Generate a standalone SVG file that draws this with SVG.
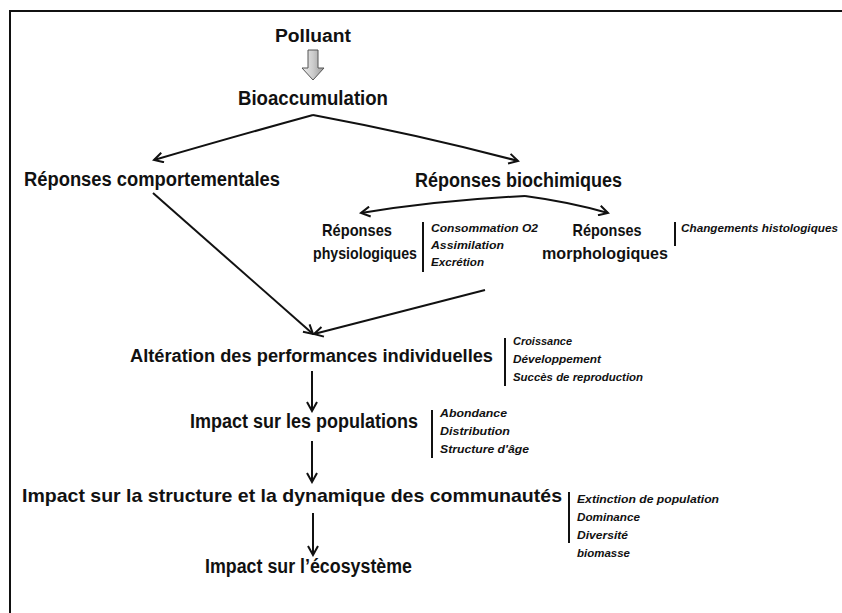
<svg xmlns="http://www.w3.org/2000/svg" width="842" height="613" viewBox="0 0 842 613">
<style>
.t{font-family:"Liberation Sans",Arial,sans-serif;font-weight:bold;fill:#111;}
.big{font-size:20px;}
.mid{font-size:17px;}
.it{font-family:"Liberation Sans",Arial,sans-serif;font-weight:bold;font-style:italic;font-size:11px;fill:#111;}
.c{stroke:#111;stroke-width:2;fill:none;marker-end:url(#ah);}
.bar{stroke:#111;stroke-width:2;}
</style>
<defs>
<marker id="ah" markerWidth="12" markerHeight="12" refX="10" refY="6" orient="auto" markerUnits="userSpaceOnUse">
<path d="M1,1 L10,6 L1,11" fill="none" stroke="#111" stroke-width="2"/>
</marker>
<linearGradient id="gg" x1="0" x2="1" y1="0" y2="0">
<stop offset="0" stop-color="#eee"/><stop offset="0.5" stop-color="#ccc"/><stop offset="1" stop-color="#999"/>
</linearGradient>
</defs>
<rect width="842" height="613" fill="#fff"/>
<g id="frame"><path d="M10,613 L10,11 L842,11" fill="none" stroke="#111" stroke-width="2"/></g>

<g id="connectors">
<path d="M308,50 L318,50 L318,68 L324,68 L313,80 L302,68 L308,68 Z" fill="url(#gg)" stroke="#555" stroke-width="1"/>
<path class="c" d="M313,115 Q240,135 154,160"/>
<path class="c" d="M313,115 Q420,135 518,161"/>
<path class="c" d="M525,196 Q440,200 361,213"/>
<path class="c" d="M525,196 Q570,202 608,213"/>
<path class="c" d="M153,193 L313,334"/>
<path class="c" d="M485,290 L314,334"/>
<path class="c" d="M312,371 L312,411"/>
<path class="c" d="M312,441 L312,482"/>
<path class="c" d="M313,513 L313,555"/>
</g>

<g id="n-polluant"><text class="t" x="313" y="42" font-size="18" text-anchor="middle" textLength="76" lengthAdjust="spacingAndGlyphs">Polluant</text></g>
<g id="n-bioacc"><text class="t big" x="313" y="105" text-anchor="middle" textLength="150" lengthAdjust="spacingAndGlyphs">Bioaccumulation</text></g>
<g id="n-comport"><text class="t big" x="24" y="186" textLength="256" lengthAdjust="spacingAndGlyphs">Réponses comportementales</text></g>
<g id="n-biochim"><text class="t big" x="415" y="187" textLength="207" lengthAdjust="spacingAndGlyphs">Réponses biochimiques</text></g>

<g id="n-physio">
<text class="t mid" x="357" y="236" text-anchor="middle" textLength="70" lengthAdjust="spacingAndGlyphs">Réponses</text>
<text class="t mid" x="365" y="259" text-anchor="middle" textLength="104" lengthAdjust="spacingAndGlyphs">physiologiques</text>
<line class="bar" x1="423" y1="222" x2="423" y2="272"/>
<text class="it" x="431" y="232" textLength="107" lengthAdjust="spacingAndGlyphs">Consommation O2</text>
<text class="it" x="431" y="249" textLength="73" lengthAdjust="spacingAndGlyphs">Assimilation</text>
<text class="it" x="431" y="266" textLength="53" lengthAdjust="spacingAndGlyphs">Excrétion</text>
</g>

<g id="n-morpho">
<text class="t mid" x="607" y="236" text-anchor="middle" textLength="69" lengthAdjust="spacingAndGlyphs">Réponses</text>
<text class="t mid" x="605" y="259" text-anchor="middle" textLength="126" lengthAdjust="spacingAndGlyphs">morphologiques</text>
<line class="bar" x1="675" y1="222" x2="675" y2="246"/>
<text class="it" x="681" y="232" textLength="157" lengthAdjust="spacingAndGlyphs">Changements histologiques</text>
</g>

<g id="n-alteration">
<text class="t" font-size="18" x="130" y="362" textLength="363" lengthAdjust="spacingAndGlyphs">Altération des performances individuelles</text>
<line class="bar" x1="505" y1="338" x2="505" y2="386"/>
<text class="it" x="513" y="345" textLength="59" lengthAdjust="spacingAndGlyphs">Croissance</text>
<text class="it" x="513" y="363" textLength="88" lengthAdjust="spacingAndGlyphs">Développement</text>
<text class="it" x="513" y="381" textLength="130" lengthAdjust="spacingAndGlyphs">Succès de reproduction</text>
</g>

<g id="n-populations">
<text class="t big" x="190" y="428" textLength="228" lengthAdjust="spacingAndGlyphs">Impact sur les populations</text>
<line class="bar" x1="432" y1="410" x2="432" y2="458"/>
<text class="it" x="440" y="417" textLength="67" lengthAdjust="spacingAndGlyphs">Abondance</text>
<text class="it" x="440" y="435" textLength="70" lengthAdjust="spacingAndGlyphs">Distribution</text>
<text class="it" x="440" y="453" textLength="89" lengthAdjust="spacingAndGlyphs">Structure d'âge</text>
</g>

<g id="n-communautes">
<text class="t" font-size="19" x="22" y="502" textLength="540" lengthAdjust="spacingAndGlyphs">Impact sur la structure et la dynamique des communautés</text>
<line class="bar" x1="569" y1="492" x2="569" y2="543"/>
<text class="it" x="577" y="503" textLength="142" lengthAdjust="spacingAndGlyphs">Extinction de population</text>
<text class="it" x="577" y="521" textLength="63" lengthAdjust="spacingAndGlyphs">Dominance</text>
<text class="it" x="577" y="539" textLength="51" lengthAdjust="spacingAndGlyphs">Diversité</text>
<text class="it" x="577" y="557" textLength="53" lengthAdjust="spacingAndGlyphs">biomasse</text>
</g>

<g id="n-ecosysteme"><text class="t big" x="205" y="573" textLength="207" lengthAdjust="spacingAndGlyphs">Impact sur l’écosystème</text></g>
</svg>
